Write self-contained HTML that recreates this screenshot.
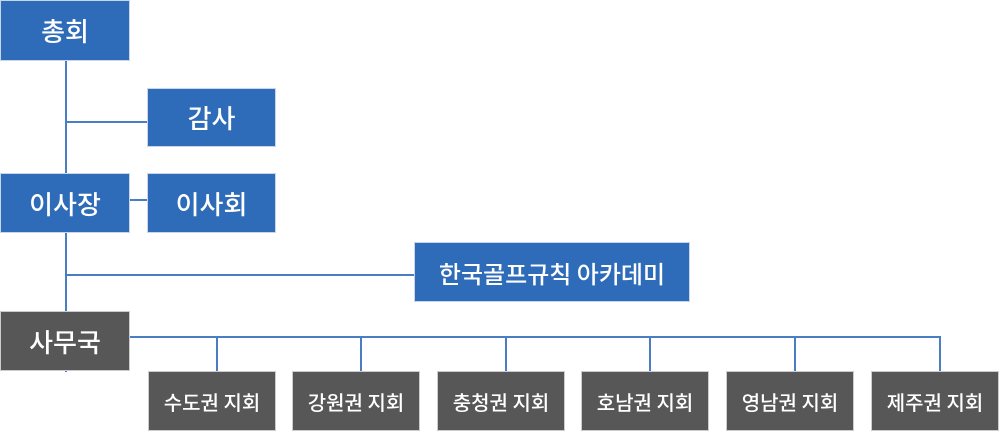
<!DOCTYPE html>
<html><head><meta charset="utf-8"><style>
body{margin:0;width:1000px;height:432px;background:#fff;position:relative;overflow:hidden;font-family:"Noto Sans CJK KR","Liberation Sans",sans-serif;font-weight:500}
.b{position:absolute;color:#fff;display:flex;align-items:center;justify-content:center;box-sizing:border-box;border:1px solid #c9d6ea}
.bl{background:#2e6bb8;font-size:26px}
.g{background:#575757;border-color:#ccc}
.s{font-size:20px;top:371px;height:60px;width:128px}
.l{position:absolute;background:#4a7ec3}
</style></head><body>
<div class="l" style="left:65px;top:60px;width:2px;height:312px"></div>
<div class="l" style="left:66px;top:121px;width:82px;height:2px"></div>
<div class="l" style="left:130px;top:199px;width:18px;height:2px"></div>
<div class="l" style="left:66px;top:274px;width:348px;height:2px"></div>
<div class="l" style="left:130px;top:336px;width:811px;height:2px"></div>
<div class="l" style="left:216px;top:337px;width:2px;height:35px"></div>
<div class="l" style="left:360px;top:337px;width:2px;height:35px"></div>
<div class="l" style="left:505px;top:337px;width:2px;height:35px"></div>
<div class="l" style="left:649px;top:337px;width:2px;height:35px"></div>
<div class="l" style="left:794px;top:337px;width:2px;height:35px"></div>
<div class="l" style="left:939px;top:337px;width:2px;height:35px"></div>
<div class="b bl" style="left:0;top:0;width:130px;height:61px">총회</div>
<div class="b bl" style="left:147px;top:88px;width:129px;height:59px">감사</div>
<div class="b bl" style="left:0;top:173px;width:130px;height:60px">이사장</div>
<div class="b bl" style="left:147px;top:173px;width:129px;height:60px">이사회</div>
<div class="b bl" style="left:414px;top:242px;width:276px;height:60px;font-size:24px">한국골프규칙 아카데미</div>
<div class="b g" style="left:0;top:311px;width:130px;height:60px;font-size:26px">사무국</div>
<div class="b g s" style="left:148px">수도권 지회</div>
<div class="b g s" style="left:292px">강원권 지회</div>
<div class="b g s" style="left:437px">충청권 지회</div>
<div class="b g s" style="left:581px">호남권 지회</div>
<div class="b g s" style="left:726px">영남권 지회</div>
<div class="b g s" style="left:871px">제주권 지회</div>
</body></html>
